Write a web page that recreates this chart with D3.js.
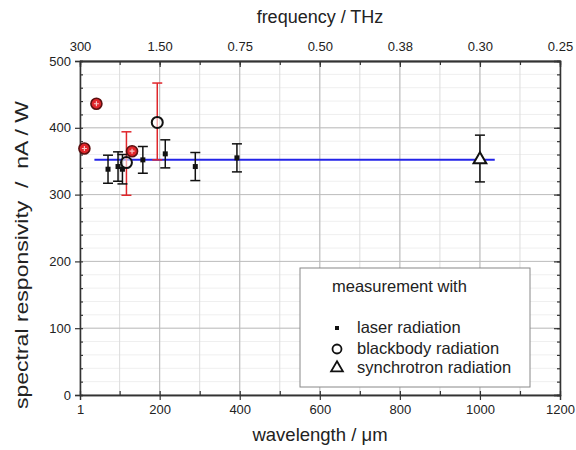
<!DOCTYPE html>
<html>
<head>
<meta charset="utf-8">
<script src="https://cdn.jsdelivr.net/npm/d3@7"></script>
<style>
  body { margin: 0; background: #fff; }
  svg text { font-family: "Liberation Sans", Arial, sans-serif; fill: #222; }
</style>
</head>
<body>
<svg id="chart" width="576" height="450"></svg>
<script>
// данные
const laserWl = [71, 96, 107, 158, 214, 289, 393];
const laserVal = [338, 342, 338, 352, 361, 342, 355];
const laserErr = [21, 22, 22, 20, 21, 21, 21];

const bbWl = [12, 42, 117, 131, 194];
const bbVal = [369, 436, 348, 365, 408];
const bbRed = [true, true, false, true, false];

// красные планки ошибок (blackbody)
const bbErrWl = [117, 194];
const bbErrLow = [299, 352];
const bbErrHigh = [394, 467];

const synWl = [1000];
const synVal = [354];
const synErr = [35];

const meanWl = [37, 1037];
const meanVal = 352;

const xTicks = [1, 200, 400, 600, 800, 1000, 1200];
const topTickLabels = ["300", "1.50", "0.75", "0.50", "0.38", "0.30", "0.25"];
const yTicks = [0, 100, 200, 300, 400, 500];

const margin = { top: 61, right: 16, bottom: 55, left: 80 };
const width = 576, height = 450;
const iw = width - margin.left - margin.right;
const ih = height - margin.top - margin.bottom;

const svg = d3.select("#chart");
const g = svg.append("g").attr("transform", `translate(${margin.left},${margin.top})`);

const x = d3.scaleLinear().domain([1, 1200]).range([0, iw]);
const y = d3.scaleLinear().domain([0, 500]).range([ih, 0]);

const minorX = d3.range(100, 1200, 100);
const minorY = d3.range(0, 501, 20);

// сетка
g.append("g").selectAll("line").data(minorY).join("line")
  .attr("x1", 0).attr("x2", iw).attr("y1", d => y(d)).attr("y2", d => y(d))
  .attr("stroke", "#efefef");
g.append("g").selectAll("line").data(minorX).join("line")
  .attr("y1", 0).attr("y2", ih).attr("x1", d => x(d)).attr("x2", d => x(d))
  .attr("stroke", "#dcdcdc");
g.append("g").selectAll("line").data(yTicks).join("line")
  .attr("x1", 0).attr("x2", iw).attr("y1", d => y(d)).attr("y2", d => y(d))
  .attr("stroke", "#bdbdbd");
g.append("g").selectAll("line").data(xTicks).join("line")
  .attr("y1", 0).attr("y2", ih).attr("x1", d => x(d)).attr("x2", d => x(d))
  .attr("stroke", "#bdbdbd");

// оси
function styleAxis(sel) {
  sel.select(".domain").attr("stroke", "#333").attr("stroke-width", 1.3);
  sel.selectAll(".tick line").attr("stroke", "#333").attr("stroke-width", 1.2);
  sel.selectAll(".tick text").attr("font-size", 13).attr("fill", "#222");
}

g.append("g").attr("transform", `translate(0,${ih})`)
  .call(d3.axisBottom(x).tickValues(xTicks).tickSize(5).tickPadding(5).tickFormat(d3.format("d")))
  .call(styleAxis);
g.append("g").attr("transform", `translate(0,${ih})`)
  .call(d3.axisTop(x).tickValues(minorX).tickSize(4).tickFormat(""))
  .call(styleAxis);

g.append("g")
  .call(d3.axisTop(x).tickValues(xTicks).tickSize(0).tickPadding(10).tickFormat((d, i) => topTickLabels[i]))
  .call(styleAxis);
g.append("g")
  .call(d3.axisBottom(x).tickValues(xTicks).tickSize(6).tickFormat(""))
  .call(styleAxis);
g.append("g")
  .call(d3.axisBottom(x).tickValues(minorX).tickSize(4).tickFormat(""))
  .call(styleAxis);

g.append("g")
  .call(d3.axisLeft(y).tickValues(yTicks).tickSize(5).tickPadding(4))
  .call(styleAxis);
g.append("g")
  .call(d3.axisRight(y).tickValues(minorY).tickSize(3).tickFormat(""))
  .call(styleAxis);

g.append("g").attr("transform", `translate(${iw},0)`)
  .call(d3.axisLeft(y).tickValues(yTicks).tickSize(6).tickFormat(""))
  .call(styleAxis);
g.append("g").attr("transform", `translate(${iw},0)`)
  .call(d3.axisLeft(y).tickValues(minorY).tickSize(3).tickFormat(""))
  .call(styleAxis);

// подписи осей
svg.append("text").attr("x", margin.left + iw / 2).attr("y", 23)
  .attr("text-anchor", "middle").attr("font-size", 18).text("frequency / THz");
svg.append("text").attr("x", margin.left + iw / 2).attr("y", 441)
  .attr("text-anchor", "middle").attr("font-size", 18.5).text("wavelength / μm");
svg.append("text")
  .attr("transform", `translate(28,${margin.top + ih / 2 + 27}) rotate(-90)`)
  .attr("text-anchor", "middle").attr("font-size", 18)
  .attr("textLength", 308).attr("lengthAdjust", "spacingAndGlyphs")
  .attr("xml:space", "preserve")
  .text("spectral responsivity  /  nA / W");

// линия среднего
g.append("line")
  .attr("x1", x(meanWl[0])).attr("x2", x(meanWl[1]))
  .attr("y1", y(meanVal)).attr("y2", y(meanVal))
  .attr("stroke", "#2424e8").attr("stroke-width", 2);

function errBar(parent, cx, lo, hi, color, cap) {
  parent.append("line").attr("x1", cx).attr("x2", cx).attr("y1", lo).attr("y2", hi)
    .attr("stroke", color).attr("stroke-width", 1.5);
  [lo, hi].forEach(v => parent.append("line")
    .attr("x1", cx - cap).attr("x2", cx + cap).attr("y1", v).attr("y2", v)
    .attr("stroke", color).attr("stroke-width", 1.5));
}

// красные планки ошибок
bbErrWl.forEach((w, i) => errBar(g, x(w), y(bbErrLow[i]), y(bbErrHigh[i]), "#e0262b", 5));

// лазер
laserWl.forEach((w, i) => {
  errBar(g, x(w), y(laserVal[i] - laserErr[i]), y(laserVal[i] + laserErr[i]), "#111", 5);
  g.append("rect").attr("x", x(w) - 2.5).attr("y", y(laserVal[i]) - 2.5)
    .attr("width", 5).attr("height", 5).attr("fill", "#111");
});

// синхротрон
synWl.forEach((w, i) => {
  errBar(g, x(w), y(synVal[i] - synErr[i]), y(synVal[i] + synErr[i]), "#111", 5);
  g.append("path")
    .attr("d", d3.symbol(d3.symbolTriangle, 70)())
    .attr("transform", `translate(${x(w)},${y(synVal[i]) + 1})`)
    .attr("fill", "#fff").attr("stroke", "#111").attr("stroke-width", 2);
});

// абсолютно черное тело
bbWl.forEach((w, i) => {
  const cx = x(w), cy = y(bbVal[i]);
  if (bbRed[i]) {
    g.append("circle").attr("cx", cx).attr("cy", cy).attr("r", 5.5)
      .attr("fill", "#e0262b").attr("stroke", "#5a1010").attr("stroke-width", 1.6);
    g.append("path").attr("d", `M${cx - 2.5},${cy}H${cx + 2.5}M${cx},${cy - 2.5}V${cy + 2.5}`)
      .attr("stroke", "#f7c7c7").attr("stroke-width", 1.2);
  } else {
    g.append("circle").attr("cx", cx).attr("cy", cy).attr("r", 5.5)
      .attr("fill", "#fff").attr("fill-opacity", 0.6).attr("stroke", "#111").attr("stroke-width", 2);
  }
});

// легенда
const lg = svg.append("g").attr("transform", "translate(300,268)");
lg.append("rect").attr("width", 230).attr("height", 119)
  .attr("fill", "#fff").attr("stroke", "#888").attr("stroke-width", 1);
lg.append("text").attr("x", 32).attr("y", 24).attr("font-size", 16.5).text("measurement with");
const legItems = ["laser radiation", "blackbody radiation", "synchrotron radiation"];
const legY = [65, 86, 105];
legItems.forEach((t, i) => {
  lg.append("text").attr("x", 57).attr("y", legY[i]).attr("font-size", 16.5).text(t);
});
lg.append("rect").attr("x", 35).attr("y", legY[0] - 7).attr("width", 4).attr("height", 4).attr("fill", "#111");
lg.append("circle").attr("cx", 37).attr("cy", legY[1] - 5).attr("r", 4.5)
  .attr("fill", "none").attr("stroke", "#111").attr("stroke-width", 1.8);
lg.append("path").attr("d", d3.symbol(d3.symbolTriangle, 60)())
  .attr("transform", `translate(37,${legY[2] - 5})`)
  .attr("fill", "none").attr("stroke", "#111").attr("stroke-width", 1.8);
</script>
</body>
</html>
